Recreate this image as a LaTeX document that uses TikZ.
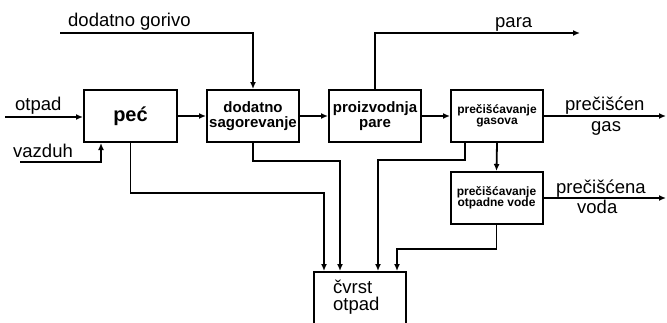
\documentclass[tikz,border=0pt]{standalone}
\usepackage{fontspec}
\setmainfont{Liberation Sans}
\usetikzlibrary{arrows.meta}
\begin{document}
\begin{tikzpicture}[x=1pt,y=-1pt,
  box/.style={draw,line width=2pt,minimum width=92pt,minimum height=52pt,inner sep=0pt,align=center,font=\bfseries\fontsize{15}{15.5}\selectfont},
  smallbox/.style={box,font=\bfseries\fontsize{12}{11.5}\selectfont},
  lbl/.style={font=\fontsize{18.5}{17}\selectfont,inner sep=0pt,anchor=base west},
  arr/.style={line width=1.8pt,-{Latex[length=7pt,width=6pt]}}]
\useasboundingbox (0,0) rectangle (667,322);
% boxes
\node[box,minimum width=93pt,font=\bfseries\fontsize{20}{20}\selectfont] (pec) at (130.5,116) {peć};
\node[box] (dod) at (253,116) {dodatno\\sagorevanje};
\node[box] (pro) at (375,116) {proizvodnja\\pare};
\node[smallbox] (gas) at (497,116) {prečišćavanje\\gasova};
\node[smallbox] (otp) at (496.5,198) {prečišćavanje\\otpadne vode};
\node[box,minimum height=62pt] (cv) at (360,303) {};
\node[lbl,align=left] (cvt) at (333,310) {čvrst\\otpad};
% labels
\node[lbl] (lgor) at (68,26) {dodatno gorivo};
\node[lbl] (lotp) at (15,110) {otpad};
\node[lbl] (lvaz) at (13,157) {vazduh};
\node[lbl] (lpara) at (495,27) {para};
\node[lbl] (lgas1) at (565,110) {prečišćen};
\node[lbl] (lgas2) at (591,131) {gas};
\node[lbl] (lvod1) at (556,193) {prečišćena};
\node[lbl] (lvod2) at (577,213) {voda};
% free ends and bends
\coordinate (otpS) at (5,117);
\coordinate (vazS) at (20,162);
\coordinate (vazX) at (101,162);
\coordinate (gorS) at (60,33);
\coordinate (paraE) at (580,33);
\coordinate (gasE) at (666,116);
\coordinate (vodE) at (666,198);
\coordinate (c1) at (324,193);
\coordinate (c2) at (340,161);
\coordinate (g1) at (465,160);
\coordinate (c3) at (378,160);
\coordinate (c4) at (397,249);
% connectors
\draw[arr] (otpS) -- (pec.west |- otpS);
\draw[arr] (vazS) -- (vazX) -- (vazX |- pec.south);
\draw[arr] (gorS) -| (dod.north);
\draw[arr] (pec) -- (dod);
\draw[arr] (dod) -- (pro);
\draw[arr] (pro) -- (gas);
\draw[arr] (pro.north) |- (paraE);
\draw[arr] (gas.east) -- (gasE);
\draw[arr] (gas.south) -- (otp.north);
\draw[arr] (otp.east) -- (vodE);
\draw[arr] (pec.south) |- (c1) -- (c1 |- cv.north);
\draw[arr] (dod.south) |- (c2) -- (c2 |- cv.north);
\draw[arr] (g1 |- gas.south) -- (g1) -- (c3) -- (c3 |- cv.north);
\draw[arr] (otp.south) |- (c4) -- (c4 |- cv.north);
\end{tikzpicture}
\end{document}
